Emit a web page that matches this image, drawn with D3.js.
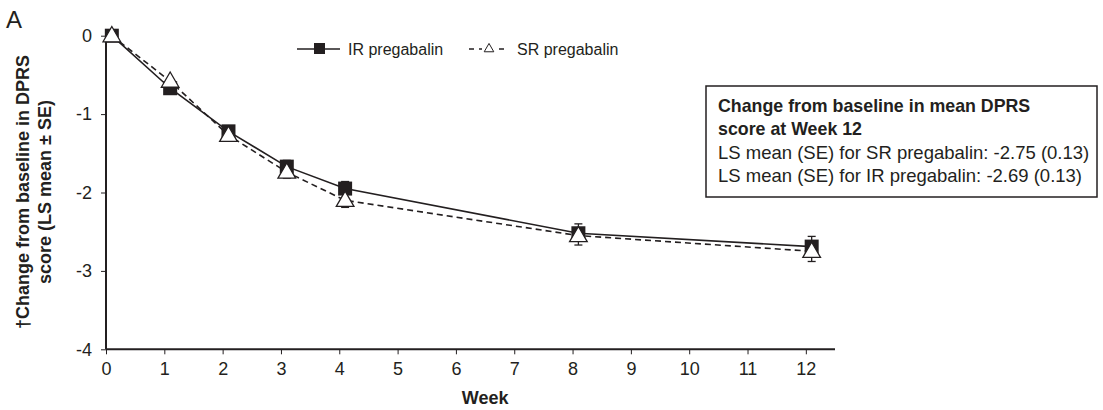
<!DOCTYPE html>
<html>
<head>
<meta charset="utf-8">
<script src="https://cdn.jsdelivr.net/npm/d3@7"></script>
<style>
  body { margin: 0; background: #fff; }
  svg { font-family: "Liberation Sans", Arial, sans-serif; }
</style>
</head>
<body>
<svg width="1103" height="410"></svg>
<script>
// данные
const weeks = [0, 1, 2, 3, 4, 8, 12];
const irMean = [0, -0.67, -1.22, -1.67, -1.95, -2.52, -2.69];
const irSE = [0, 0.05, 0.07, 0.08, 0.09, 0.12, 0.13];
const srMean = [0, -0.58, -1.27, -1.74, -2.10, -2.55, -2.75];
const srSE = [0, 0.05, 0.07, 0.08, 0.09, 0.12, 0.13];
const xTicks = d3.range(0, 13);
const yTicks = [0, -1, -2, -3, -4];
const boxLines = [
  "Change from baseline in mean DPRS",
  "score at Week 12",
  "LS mean (SE) for SR pregabalin: -2.75 (0.13)",
  "LS mean (SE) for IR pregabalin: -2.69 (0.13)"
];

const svg = d3.select("svg");
const area = { left: 106, right: 835, top: 35.7, bottom: 349.3 };

const scX = d3.scaleLinear().domain([0, 12.5]).range([area.left, area.right]);
const scY = d3.scaleLinear().domain([-4, 0]).range([area.bottom, area.top]);
const shift = 0.1; // точки смещены немного вправо от делений

// оси
const axX = svg.append("g")
  .attr("transform", `translate(0, ${area.bottom})`)
  .call(d3.axisBottom(scX).tickValues(xTicks).tickSize(5).tickPadding(8).tickFormat(d3.format("d")));
const axY = svg.append("g")
  .attr("transform", `translate(${area.left}, 0)`)
  .call(d3.axisLeft(scY).tickValues(yTicks).tickSize(5).tickPadding(9).tickFormat(d => d));
[axX, axY].forEach(g => {
  g.select(".domain").attr("stroke", "#231f20").attr("stroke-width", 2);
  g.selectAll(".tick line").attr("stroke", "#231f20");
  g.selectAll("text").attr("font-size", 18).attr("fill", "#231f20")
    .style("font-family", "Liberation Sans, Arial, sans-serif");
});
axY.select(".domain").attr("d", `M0,${area.bottom}V${area.top}`);
axX.select(".domain").attr("d", `M${area.left},0H${area.right}`);

// подписи осей
svg.append("text").attr("x", scX(6.5)).attr("y", 404).attr("text-anchor", "middle")
  .attr("font-weight", "bold").attr("font-size", 18).attr("fill", "#231f20").text("Week");

const yl = svg.append("text").attr("transform", `translate(0, 192) rotate(-90)`)
  .attr("text-anchor", "middle").attr("font-weight", "bold").attr("font-size", 18).attr("fill", "#231f20");
yl.append("tspan").attr("x", 0).attr("y", 29).text("\u2020Change from baseline in DPRS");
yl.append("tspan").attr("x", 0).attr("y", 51).text("score (LS mean \u00b1 SE)");

svg.append("text").attr("x", 6).attr("y", 28).attr("font-size", 24).attr("fill", "#231f20").text("A");

const irData = weeks.map((w, i) => ({ w, m: irMean[i], se: irSE[i] }));
const srData = weeks.map((w, i) => ({ w, m: srMean[i], se: srSE[i] }));
const line = d3.line().x(d => scX(d.w + shift)).y(d => scY(d.m));

// ошибки: IR вверх, SR вниз
const cap = 4;
function errBars(data, dir) {
  const g = svg.append("g").attr("stroke", "#231f20").attr("stroke-width", 1.3);
  data.filter(d => d.se > 0).forEach(d => {
    const x = scX(d.w + shift), y1 = scY(d.m), y2 = scY(d.m + dir * d.se);
    g.append("line").attr("x1", x).attr("x2", x).attr("y1", y1).attr("y2", y2);
    g.append("line").attr("x1", x - cap).attr("x2", x + cap).attr("y1", y2).attr("y2", y2);
  });
}
errBars(irData, 1);
errBars(srData, -1);

svg.append("path").datum(irData).attr("d", line).attr("fill", "none")
  .attr("stroke", "#231f20").attr("stroke-width", 1.6);
svg.append("path").datum(srData).attr("d", line).attr("fill", "none")
  .attr("stroke", "#231f20").attr("stroke-width", 1.6).attr("stroke-dasharray", "6,4");

const sq = 14;
svg.selectAll(".sq").data(irData).enter().append("rect")
  .attr("x", d => scX(d.w + shift) - sq / 2).attr("y", d => scY(d.m) - sq / 2)
  .attr("width", sq).attr("height", sq).attr("fill", "#231f20");

const tri = d3.symbol().type(d3.symbolTriangle).size(135);
svg.selectAll(".tri").data(srData).enter().append("path")
  .attr("d", tri)
  .attr("transform", d => `translate(${scX(d.w + shift)}, ${scY(d.m) + 1})`)
  .attr("fill", "#fff").attr("stroke", "#231f20").attr("stroke-width", 1.3);

// легенда
const lg = svg.append("g");
lg.append("line").attr("x1", 297).attr("x2", 340).attr("y1", 49).attr("y2", 49)
  .attr("stroke", "#231f20").attr("stroke-width", 1.6);
lg.append("rect").attr("x", 314).attr("y", 43).attr("width", 11).attr("height", 11).attr("fill", "#231f20");
lg.append("text").attr("x", 348).attr("y", 55).attr("font-size", 16).attr("fill", "#231f20").text("IR pregabalin");
lg.append("line").attr("x1", 469).attr("x2", 509).attr("y1", 49).attr("y2", 49)
  .attr("stroke", "#231f20").attr("stroke-width", 1.4).attr("stroke-dasharray", "5,5");
lg.append("rect").attr("x", 482).attr("y", 41).attr("width", 14).attr("height", 12).attr("fill", "#fff");
lg.append("path").attr("d", d3.symbol().type(d3.symbolTriangle).size(40))
  .attr("transform", "translate(489, 49)").attr("fill", "#fff").attr("stroke", "#231f20").attr("stroke-width", 1);
lg.append("text").attr("x", 517).attr("y", 55).attr("font-size", 16).attr("fill", "#231f20").text("SR pregabalin");

// рамка с итогами
const bx = svg.append("g");
bx.append("rect").attr("x", 706).attr("y", 86).attr("width", 391).attr("height", 111)
  .attr("fill", "#fff").attr("stroke", "#231f20").attr("stroke-width", 1.5);
const by = [112, 135, 159, 182];
boxLines.forEach((t, i) => {
  bx.append("text").attr("x", 718).attr("y", by[i]).attr("font-size", i < 2 ? 17.8 : 18.5)
    .attr("font-weight", i < 2 ? "bold" : "normal").attr("fill", "#231f20").text(t);
});
</script>
</body>
</html>
